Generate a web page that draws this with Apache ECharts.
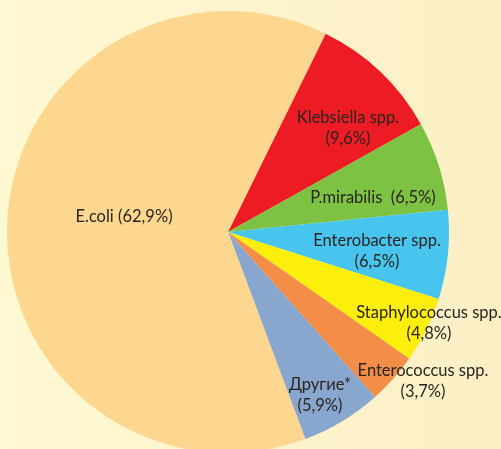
<!DOCTYPE html>
<html>
<head>
<meta charset="utf-8">
<script src="https://cdn.jsdelivr.net/npm/echarts@6/dist/echarts.min.js"></script>
<style>
  html, body { margin: 0; padding: 0; }
  body { width: 501px; height: 449px; background: linear-gradient(90deg, #FEF9D3 0%, #FDF3CB 60%, #FCEFC5 100%); overflow: hidden; }
  #chart { width: 501px; height: 449px; }
</style>
</head>
<body>
<div id="chart"></div>
<script>
// Data
var categories = ['Klebsiella spp.', 'P.mirabilis', 'Enterobacter spp.', 'Staphylococcus spp.', 'Enterococcus spp.', 'Другие*', 'E.coli'];
var values = [9.6, 6.5, 6.5, 4.8, 3.7, 5.9, 62.9];
var labelTexts = [
  'Klebsiella spp.\n(9,6%)',
  'P.mirabilis  (6,5%)',
  'Enterobacter spp.\n(6,5%)',
  'Staphylococcus spp.\n(4,8%)',
  'Enterococcus spp.\n(3,7%)',
  'Другие*\n(5,9%)',
  'E.coli (62,9%)'
];

// Styles
var colors = ['#ED1C24', '#7DC243', '#47C5EE', '#FDEE0B', '#F38D47', '#89A7CE', '#FDD68F'];
var cx = 228, cy = 232, R = 221;
// label centres as offsets from pie centre (px)
var labelOffsets = [[120, -104], [145, -34], [149, 19], [201, 91], [195, 149], [92, 163], [-104, -15]];

var chart = echarts.init(document.getElementById('chart'), null, { renderer: 'canvas' });
chart.setOption({
  backgroundColor: 'transparent',
  animation: false,
  series: [{
    type: 'pie',
    center: [cx, cy],
    radius: [0, R],
    startAngle: 63.8,
    clockwise: true,
    avoidLabelOverlap: false,
    itemStyle: { borderWidth: 0 },
    emphasis: { disabled: true },
    label: {
      show: true,
      position: 'inside',
      color: '#2a2421',
      fontFamily: 'Lato',
      fontSize: 16.5,
      lineHeight: 21,
      align: 'center',
      formatter: function (p) { return labelTexts[p.dataIndex]; }
    },
    labelLine: { show: false },
    labelLayout: function (p) {
      var o = labelOffsets[p.dataIndex];
      return { x: cx + o[0], y: cy + o[1], align: 'center', verticalAlign: 'middle' };
    },
    data: categories.map(function (c, i) {
      return { name: c, value: values[i], itemStyle: { color: colors[i] } };
    })
  }]
});
</script>
</body>
</html>
